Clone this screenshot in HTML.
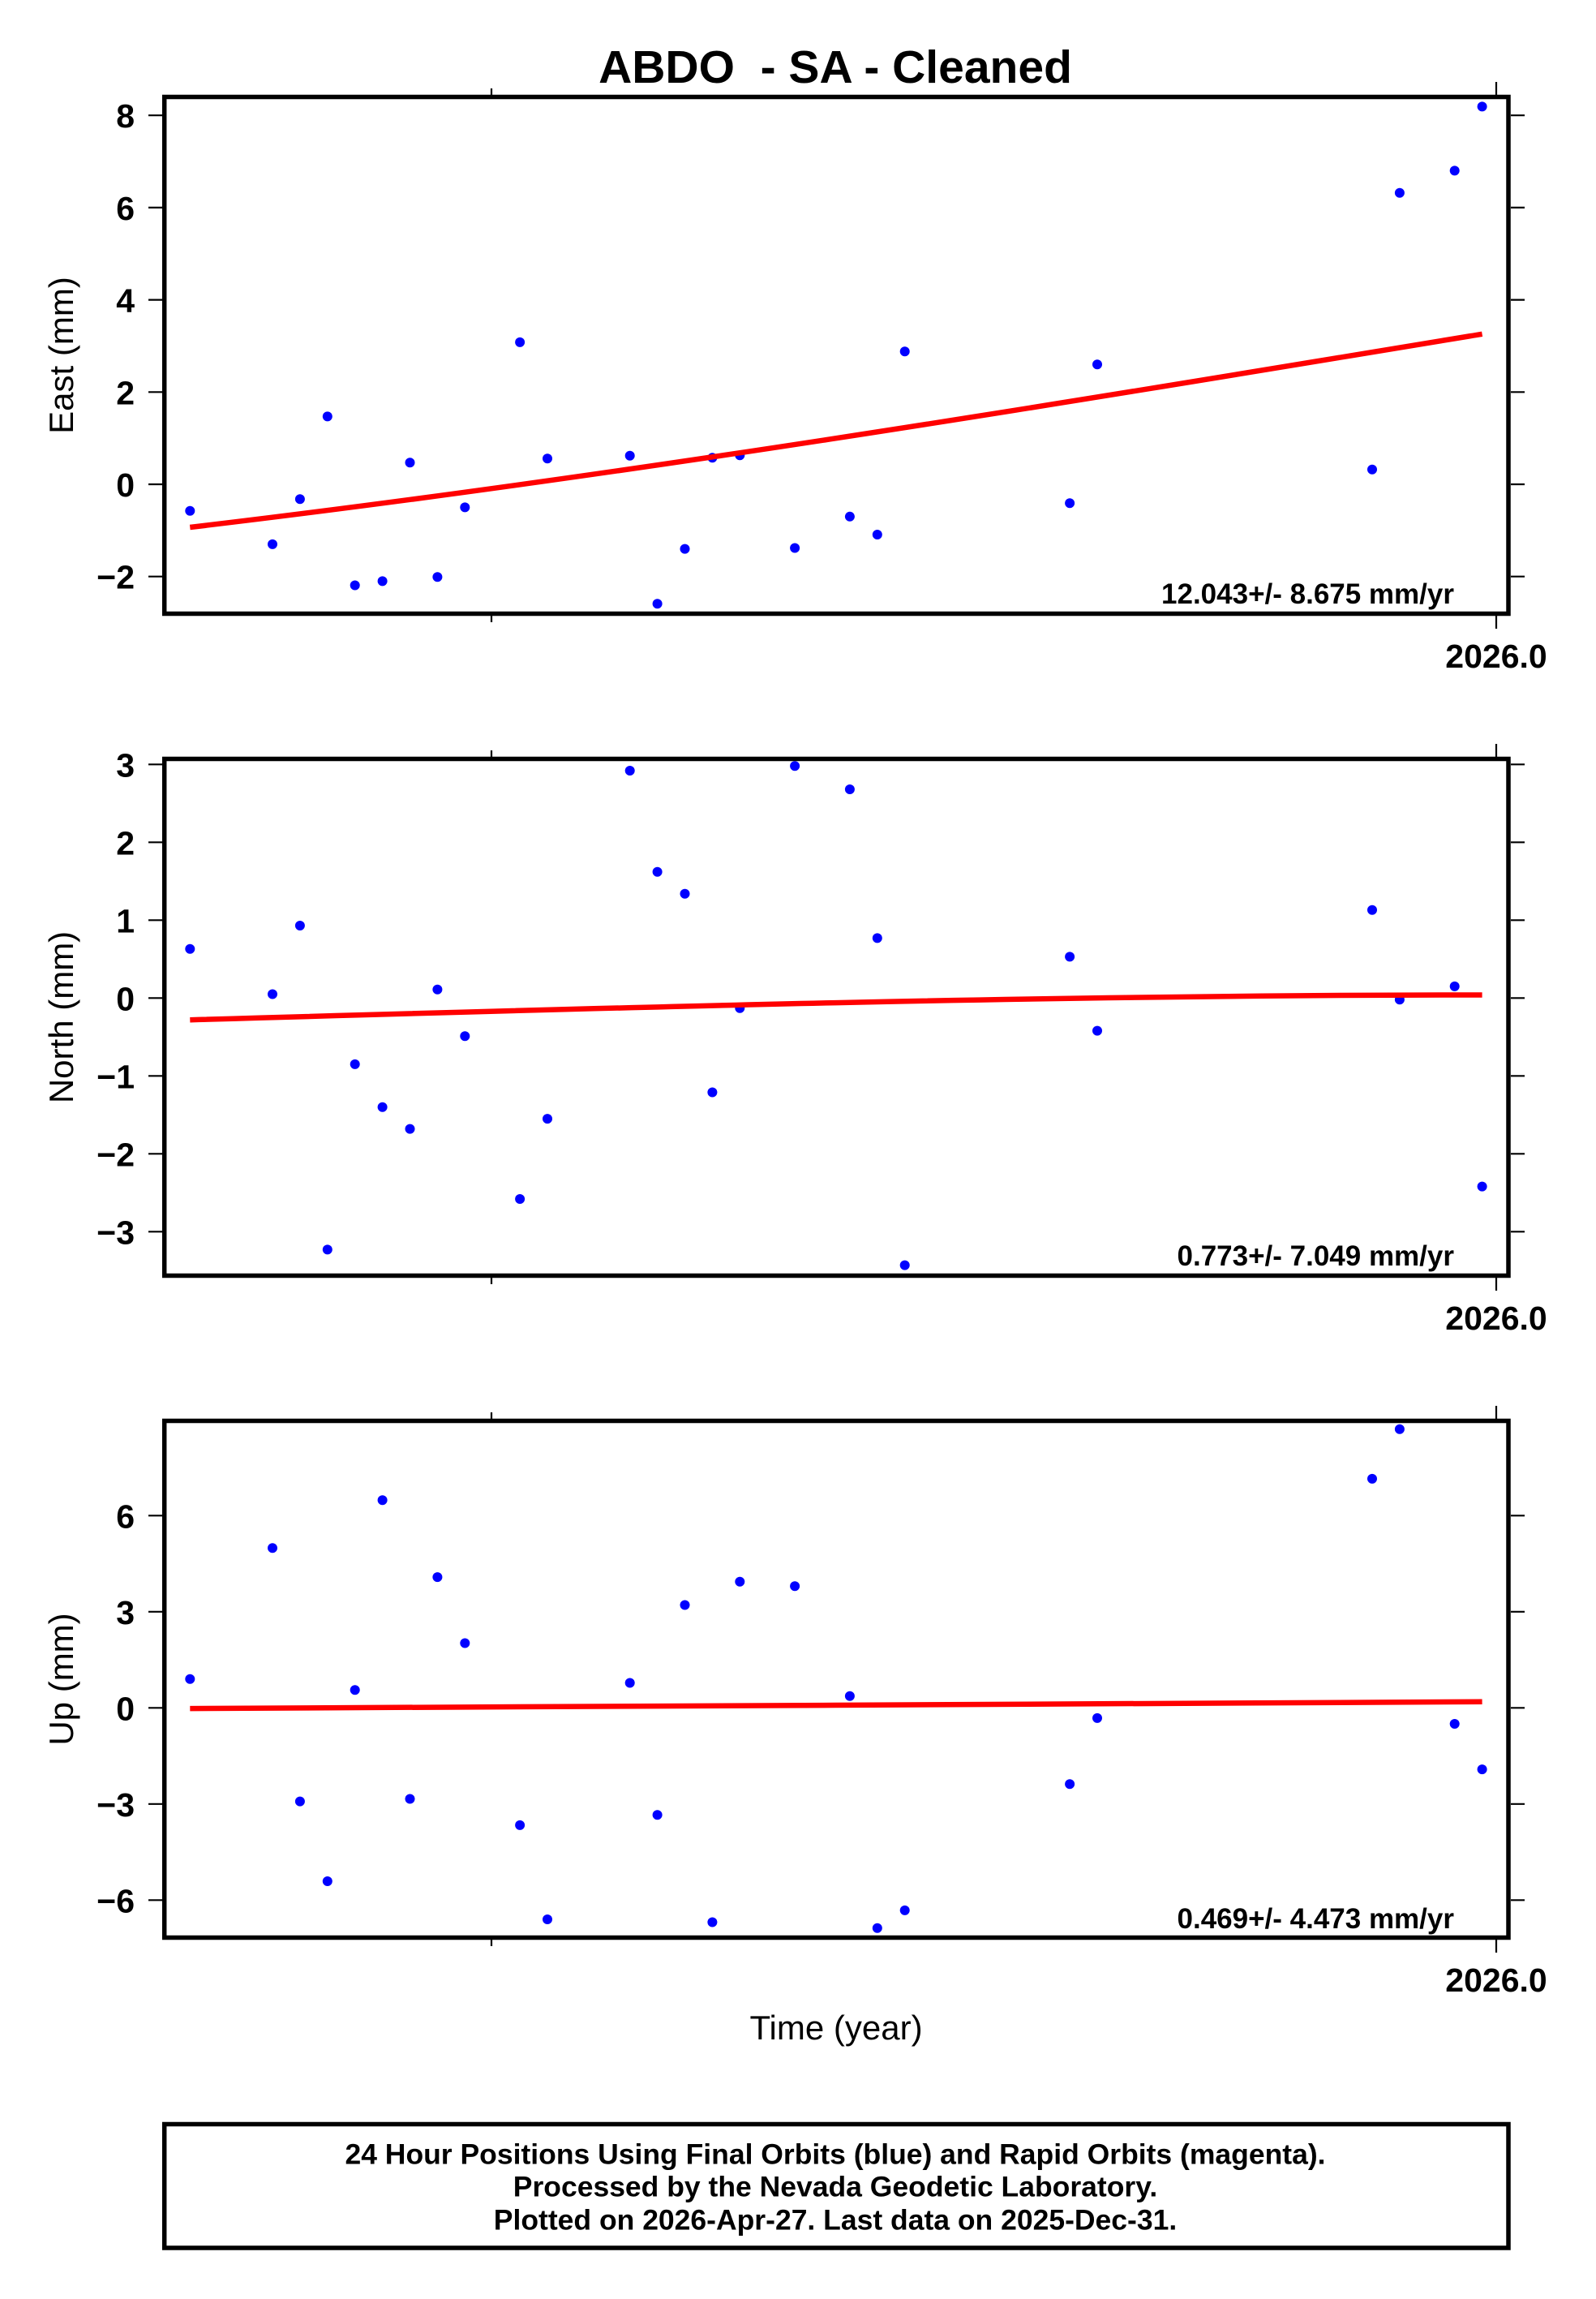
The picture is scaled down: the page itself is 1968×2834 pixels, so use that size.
<!DOCTYPE html>
<html>
<head>
<meta charset="utf-8">
<style>
html,body{margin:0;padding:0;background:#fff;}
svg{display:block;}
text{font-family:"Liberation Sans",Arial,Helvetica,sans-serif;fill:#000;}
.tl{font-weight:bold;font-size:41px;text-anchor:end;}
.xl{font-weight:bold;font-size:41px;text-anchor:middle;}
.sl{font-weight:bold;font-size:35px;text-anchor:end;}
.al{font-size:42px;text-anchor:middle;}
.bx{font-weight:bold;font-size:35.5px;text-anchor:middle;}
</style>
</head>
<body>
<svg width="1968" height="2834" viewBox="0 0 1968 2834" xmlns="http://www.w3.org/2000/svg">
<rect x="0" y="0" width="1968" height="2834" fill="#fff"/>

<!-- Title -->
<text x="1030" y="102" style="font-weight:bold;font-size:57px;text-anchor:middle;white-space:pre" xml:space="preserve">ABDO  - SA - Cleaned</text>

<!-- ================= EAST PANEL ================= -->
<g>
  <g fill="#0000ff">
    <circle cx="234.3" cy="629.7" r="6"/>
    <circle cx="336.0" cy="670.9" r="6"/>
    <circle cx="369.9" cy="615.2" r="6"/>
    <circle cx="403.8" cy="513.4" r="6"/>
    <circle cx="437.7" cy="721.5" r="6"/>
    <circle cx="471.6" cy="716.4" r="6"/>
    <circle cx="505.5" cy="570.3" r="6"/>
    <circle cx="539.4" cy="711.3" r="6"/>
    <circle cx="573.3" cy="625.4" r="6"/>
    <circle cx="641.1" cy="421.9" r="6"/>
    <circle cx="675.0" cy="565.2" r="6"/>
    <circle cx="776.7" cy="561.8" r="6"/>
    <circle cx="810.6" cy="744.2" r="6"/>
    <circle cx="844.5" cy="676.6" r="6"/>
    <circle cx="878.4" cy="564.3" r="6"/>
    <circle cx="912.3" cy="561.2" r="6"/>
    <circle cx="980.1" cy="675.5" r="6"/>
    <circle cx="1047.9" cy="636.8" r="6"/>
    <circle cx="1081.8" cy="659.0" r="6"/>
    <circle cx="1115.7" cy="433.3" r="6"/>
    <circle cx="1319.1" cy="620.3" r="6"/>
    <circle cx="1353.0" cy="449.2" r="6"/>
    <circle cx="1692.0" cy="578.8" r="6"/>
    <circle cx="1725.9" cy="237.7" r="6"/>
    <circle cx="1793.7" cy="210.4" r="6"/>
    <circle cx="1827.6" cy="131.4" r="6"/>
  </g>
  <path fill="none" stroke="#ff0000" stroke-width="6.5" d="M234.3,650 C765.3,587.3 1296.6,499.4 1827.6,411.8"/>
  <rect x="202.7" y="119.5" width="1657.3" height="637" fill="none" stroke="#000" stroke-width="5.5"/>
  <g stroke="#000" stroke-width="2.2">
    <line x1="183" y1="710.7" x2="200" y2="710.7"/><line x1="1863" y1="710.7" x2="1880" y2="710.7"/>
    <line x1="183" y1="597" x2="200" y2="597"/><line x1="1863" y1="597" x2="1880" y2="597"/>
    <line x1="183" y1="483.3" x2="200" y2="483.3"/><line x1="1863" y1="483.3" x2="1880" y2="483.3"/>
    <line x1="183" y1="369.6" x2="200" y2="369.6"/><line x1="1863" y1="369.6" x2="1880" y2="369.6"/>
    <line x1="183" y1="255.9" x2="200" y2="255.9"/><line x1="1863" y1="255.9" x2="1880" y2="255.9"/>
    <line x1="183" y1="142.2" x2="200" y2="142.2"/><line x1="1863" y1="142.2" x2="1880" y2="142.2"/>
    <line x1="606" y1="109" x2="606" y2="117"/><line x1="606" y1="759" x2="606" y2="767"/>
    <line x1="1845" y1="101" x2="1845" y2="117"/><line x1="1845" y1="759" x2="1845" y2="775"/>
  </g>
  <text class="tl" x="166" y="725.7">−2</text>
  <text class="tl" x="166" y="612">0</text>
  <text class="tl" x="166" y="498.3">2</text>
  <text class="tl" x="166" y="384.6">4</text>
  <text class="tl" x="166" y="270.9">6</text>
  <text class="tl" x="166" y="157.2">8</text>
  <text class="xl" x="1845" y="823">2026.0</text>
  <text class="sl" x="1793" y="744">12.043+/- 8.675 mm/yr</text>
  <text class="al" transform="translate(90,438) rotate(-90)">East (mm)</text>
</g>

<!-- ================= NORTH PANEL ================= -->
<g>
  <g fill="#0000ff">
    <circle cx="234.3" cy="1169.8" r="6"/>
    <circle cx="336.0" cy="1225.5" r="6"/>
    <circle cx="369.9" cy="1141.0" r="6"/>
    <circle cx="403.8" cy="1540.4" r="6"/>
    <circle cx="437.7" cy="1311.9" r="6"/>
    <circle cx="471.6" cy="1364.7" r="6"/>
    <circle cx="505.5" cy="1391.6" r="6"/>
    <circle cx="539.4" cy="1219.7" r="6"/>
    <circle cx="573.3" cy="1277.3" r="6"/>
    <circle cx="641.1" cy="1478.0" r="6"/>
    <circle cx="675.0" cy="1379.1" r="6"/>
    <circle cx="776.7" cy="950.0" r="6"/>
    <circle cx="810.6" cy="1074.8" r="6"/>
    <circle cx="844.5" cy="1101.7" r="6"/>
    <circle cx="878.4" cy="1346.5" r="6"/>
    <circle cx="912.3" cy="1242.8" r="6"/>
    <circle cx="980.1" cy="944.2" r="6"/>
    <circle cx="1047.9" cy="973.0" r="6"/>
    <circle cx="1081.8" cy="1156.4" r="6"/>
    <circle cx="1115.7" cy="1559.6" r="6"/>
    <circle cx="1319.1" cy="1179.4" r="6"/>
    <circle cx="1353.0" cy="1270.6" r="6"/>
    <circle cx="1692.0" cy="1121.8" r="6"/>
    <circle cx="1725.9" cy="1232.2" r="6"/>
    <circle cx="1793.7" cy="1215.9" r="6"/>
    <circle cx="1827.6" cy="1462.6" r="6"/>
  </g>
  <path fill="none" stroke="#ff0000" stroke-width="6.5" d="M234.3,1257.2 C765.3,1241.8 1296.6,1226.5 1827.6,1226.5"/>
  <rect x="202.7" y="935.5" width="1657.3" height="637" fill="none" stroke="#000" stroke-width="5.5"/>
  <g stroke="#000" stroke-width="2.2">
    <line x1="183" y1="1518.3" x2="200" y2="1518.3"/><line x1="1863" y1="1518.3" x2="1880" y2="1518.3"/>
    <line x1="183" y1="1422.3" x2="200" y2="1422.3"/><line x1="1863" y1="1422.3" x2="1880" y2="1422.3"/>
    <line x1="183" y1="1326.3" x2="200" y2="1326.3"/><line x1="1863" y1="1326.3" x2="1880" y2="1326.3"/>
    <line x1="183" y1="1230.3" x2="200" y2="1230.3"/><line x1="1863" y1="1230.3" x2="1880" y2="1230.3"/>
    <line x1="183" y1="1134.3" x2="200" y2="1134.3"/><line x1="1863" y1="1134.3" x2="1880" y2="1134.3"/>
    <line x1="183" y1="1038.3" x2="200" y2="1038.3"/><line x1="1863" y1="1038.3" x2="1880" y2="1038.3"/>
    <line x1="183" y1="942.3" x2="200" y2="942.3"/><line x1="1863" y1="942.3" x2="1880" y2="942.3"/>
    <line x1="606" y1="925" x2="606" y2="933"/><line x1="606" y1="1575" x2="606" y2="1583"/>
    <line x1="1845" y1="917" x2="1845" y2="933"/><line x1="1845" y1="1575" x2="1845" y2="1591"/>
  </g>
  <text class="tl" x="166" y="1533.3">−3</text>
  <text class="tl" x="166" y="1437.3">−2</text>
  <text class="tl" x="166" y="1341.3">−1</text>
  <text class="tl" x="166" y="1245.3">0</text>
  <text class="tl" x="166" y="1149.3">1</text>
  <text class="tl" x="166" y="1053.3">2</text>
  <text class="tl" x="166" y="957.3">3</text>
  <text class="xl" x="1845" y="1639">2026.0</text>
  <text class="sl" x="1793" y="1560">0.773+/- 7.049 mm/yr</text>
  <text class="al" transform="translate(90,1254) rotate(-90)">North (mm)</text>
</g>

<!-- ================= UP PANEL ================= -->
<g>
  <g fill="#0000ff">
    <circle cx="234.3" cy="2069.8" r="6"/>
    <circle cx="336.0" cy="1908.2" r="6"/>
    <circle cx="369.9" cy="2220.6" r="6"/>
    <circle cx="403.8" cy="2319.0" r="6"/>
    <circle cx="437.7" cy="2083.2" r="6"/>
    <circle cx="471.6" cy="1849.3" r="6"/>
    <circle cx="505.5" cy="2217.5" r="6"/>
    <circle cx="539.4" cy="1944.1" r="6"/>
    <circle cx="573.3" cy="2025.5" r="6"/>
    <circle cx="641.1" cy="2249.9" r="6"/>
    <circle cx="675.0" cy="2366.0" r="6"/>
    <circle cx="776.7" cy="2074.5" r="6"/>
    <circle cx="810.6" cy="2237.2" r="6"/>
    <circle cx="844.5" cy="1978.5" r="6"/>
    <circle cx="878.4" cy="2369.5" r="6"/>
    <circle cx="912.3" cy="1949.7" r="6"/>
    <circle cx="980.1" cy="1955.2" r="6"/>
    <circle cx="1047.9" cy="2090.7" r="6"/>
    <circle cx="1081.8" cy="2376.7" r="6"/>
    <circle cx="1115.7" cy="2354.9" r="6"/>
    <circle cx="1319.1" cy="2199.3" r="6"/>
    <circle cx="1353.0" cy="2117.9" r="6"/>
    <circle cx="1692.0" cy="1822.9" r="6"/>
    <circle cx="1725.9" cy="1761.7" r="6"/>
    <circle cx="1793.7" cy="2125.0" r="6"/>
    <circle cx="1827.6" cy="2181.1" r="6"/>
  </g>
  <polyline fill="none" stroke="#ff0000" stroke-width="6.5" points="234.3,2106.1 1030,2102.0 1827.6,2097.8"/>
  <rect x="202.7" y="1751.5" width="1657.3" height="637" fill="none" stroke="#000" stroke-width="5.5"/>
  <g stroke="#000" stroke-width="2.2">
    <line x1="183" y1="2342.3" x2="200" y2="2342.3"/><line x1="1863" y1="2342.3" x2="1880" y2="2342.3"/>
    <line x1="183" y1="2223.8" x2="200" y2="2223.8"/><line x1="1863" y1="2223.8" x2="1880" y2="2223.8"/>
    <line x1="183" y1="2105.3" x2="200" y2="2105.3"/><line x1="1863" y1="2105.3" x2="1880" y2="2105.3"/>
    <line x1="183" y1="1986.8" x2="200" y2="1986.8"/><line x1="1863" y1="1986.8" x2="1880" y2="1986.8"/>
    <line x1="183" y1="1868.3" x2="200" y2="1868.3"/><line x1="1863" y1="1868.3" x2="1880" y2="1868.3"/>
    <line x1="606" y1="1741" x2="606" y2="1749"/><line x1="606" y1="2391" x2="606" y2="2399"/>
    <line x1="1845" y1="1733" x2="1845" y2="1749"/><line x1="1845" y1="2391" x2="1845" y2="2407"/>
  </g>
  <text class="tl" x="166" y="2357.3">−6</text>
  <text class="tl" x="166" y="2238.8">−3</text>
  <text class="tl" x="166" y="2120.3">0</text>
  <text class="tl" x="166" y="2001.8">3</text>
  <text class="tl" x="166" y="1883.3">6</text>
  <text class="xl" x="1845" y="2455">2026.0</text>
  <text class="sl" x="1793" y="2377">0.469+/- 4.473 mm/yr</text>
  <text class="al" transform="translate(90,2070) rotate(-90)">Up (mm)</text>
</g>

<!-- X axis label -->
<text class="al" x="1031" y="2514">Time (year)</text>

<!-- Bottom info box -->
<rect x="202.7" y="2618.5" width="1657.3" height="152.5" fill="none" stroke="#000" stroke-width="5.5"/>
<text class="bx" x="1030" y="2667.3">24 Hour Positions Using Final Orbits (blue) and Rapid Orbits (magenta).</text>
<text class="bx" x="1030" y="2707.7">Processed by the Nevada Geodetic Laboratory.</text>
<text class="bx" x="1030" y="2748.3">Plotted on 2026-Apr-27. Last data on 2025-Dec-31.</text>
</svg>
</body>
</html>
